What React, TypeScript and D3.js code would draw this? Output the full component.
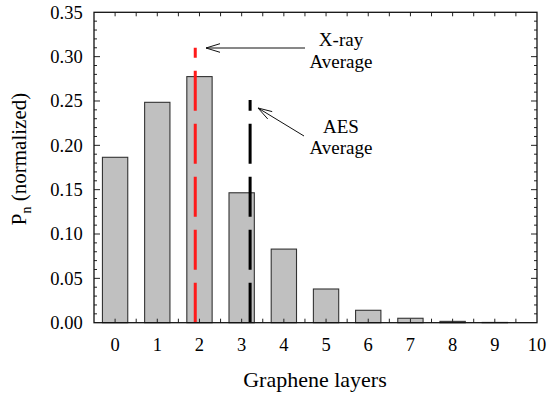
import React from "react";
import * as d3 from "d3";

const layers = [0, 1, 2, 3, 4, 5, 6, 7, 8, 9, 10];
const probabilities = [0.1865, 0.2485, 0.2775, 0.1465, 0.083, 0.038, 0.014, 0.005, 0.0015, 0.0003, 0];
const yTickLabels = [0, 0.05, 0.1, 0.15, 0.2, 0.25, 0.3, 0.35];
const xrayAverage = 1.9;
const xrayTop = 0.31;
const aesAverage = 3.2;
const aesTop = 0.251;

const W = 547;
const H = 396;
const FONT = "Liberation Serif, Times New Roman, Times, serif";

export default function App() {
  const x = d3.scaleLinear().domain([-0.5, 10]).range([94, 537]);
  const y = d3.scaleLinear().domain([0, 0.35]).range([322.7, 12.3]);
  const barW = x(0.6) - x(0);
  const [x0, x1] = x.range();
  const [yb, yt] = y.range();

  const xTicks = d3.range(-0.5, 10.01, 0.5).filter((v) => v > -0.5 && v < 10);
  const yMinor = d3.range(0.01, 0.35, 0.01);

  const arrowHead = (tx: number, ty: number, fx: number, fy: number) => {
    const ang = Math.atan2(ty - fy, tx - fx);
    const L = 14, hw = 4.3;
    const bx = tx - L * Math.cos(ang), by = ty - L * Math.sin(ang);
    const px = -Math.sin(ang) * hw, py = Math.cos(ang) * hw;
    return `M${bx + px},${by + py} L${tx},${ty} L${bx - px},${by - py}`;
  };

  const ts = { fontFamily: FONT };

  return (
    <svg width={W} height={H} style={{ position: "absolute", left: 0, top: 0, background: "#fff", fontFamily: FONT }}>
      {layers.map((l, i) => (
        <rect
          key={l}
          x={x(l) - barW / 2}
          y={y(probabilities[i])}
          width={barW}
          height={yb - y(probabilities[i])}
          fill="#c0c0c0"
          stroke="#333"
          strokeWidth={1.1}
        />
      ))}
      {xTicks.map((t) => (
        <g key={"xt" + t}>
          <line x1={x(t)} x2={x(t)} y1={yb} y2={yb - 4} stroke="#222" strokeWidth={1} />
          <line x1={x(t)} x2={x(t)} y1={yt} y2={yt + 4} stroke="#222" strokeWidth={1} />
        </g>
      ))}
      {yMinor.map((t) => {
        const major = Math.abs(t / 0.05 - Math.round(t / 0.05)) < 1e-6;
        const len = major ? 6 : 3;
        return (
          <g key={"yt" + t.toFixed(2)}>
            <line x1={x0} x2={x0 + len} y1={y(t)} y2={y(t)} stroke="#222" strokeWidth={1} />
            <line x1={x1} x2={x1 - len} y1={y(t)} y2={y(t)} stroke="#222" strokeWidth={1} />
          </g>
        );
      })}
      <line x1={x(xrayAverage)} x2={x(xrayAverage)} y1={yb} y2={y(xrayTop)} stroke="#ff1a1a" strokeWidth={3} strokeDasharray="40,13" />
      <line x1={x(aesAverage)} x2={x(aesAverage)} y1={yb} y2={y(aesTop)} stroke="#000" strokeWidth={3} strokeDasharray="40,13" />
      <rect x={x0} y={yt} width={x1 - x0} height={yb - yt} fill="none" stroke="#111" strokeWidth={1.3} />
      {layers.map((l) => (
        <text key={"xl" + l} x={x(l)} y={350.7} textAnchor="middle" fontSize={18.5} fill="#000" style={ts}>
          {l}
        </text>
      ))}
      {yTickLabels.map((t) => (
        <text key={"yl" + t} x={82.7} y={y(t)} dy="0.34em" textAnchor="end" fontSize={18.5} fill="#000" style={ts}>
          {t.toFixed(2)}
        </text>
      ))}
      <text x={315} y={386.7} textAnchor="middle" fontSize={22} fill="#000" style={ts}>
        Graphene layers
      </text>
      <text transform="translate(26,159) rotate(-90)" textAnchor="middle" fontSize={21} fill="#000" style={ts}>
        P<tspan fontSize={14} dy={5}>n</tspan>
        <tspan dy={-5}> (normalized)</tspan>
      </text>
      <line x1={305} y1={48} x2={206} y2={48} stroke="#111" strokeWidth={1} />
      <path d={arrowHead(206, 48, 305, 48)} fill="none" stroke="#111" strokeWidth={1} />
      <text x={341} y={45.9} textAnchor="middle" fontSize={19} fill="#000" style={ts}>X-ray</text>
      <text x={341} y={67.5} textAnchor="middle" fontSize={19} fill="#000" style={ts}>Average</text>
      <line x1={304} y1={136} x2={258} y2={108} stroke="#111" strokeWidth={1} />
      <path d={arrowHead(258, 108, 304, 136)} fill="none" stroke="#111" strokeWidth={1} />
      <text x={341} y={133} textAnchor="middle" fontSize={19} fill="#000" style={ts}>AES</text>
      <text x={341} y={154} textAnchor="middle" fontSize={19} fill="#000" style={ts}>Average</text>
    </svg>
  );
}
